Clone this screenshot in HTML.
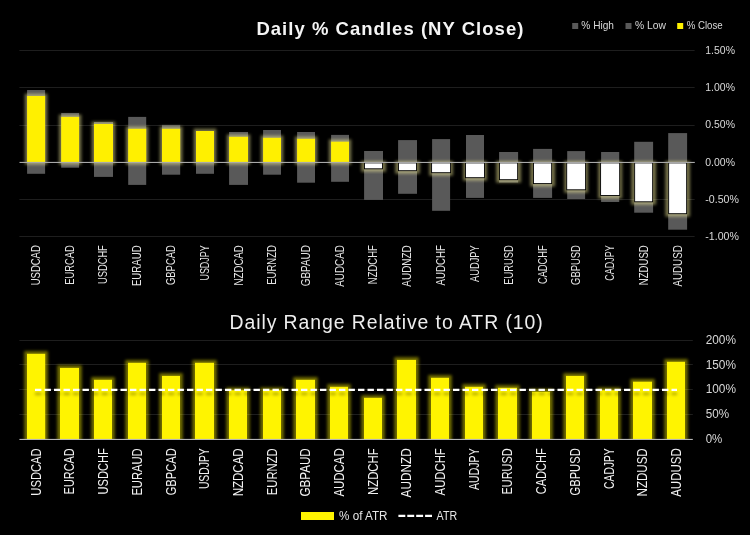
<!DOCTYPE html>
<html lang="en"><head><meta charset="utf-8"><title>Daily % Candles (NY Close)</title>
<style>
html,body{margin:0;padding:0;background:#000;}
body{width:750px;height:535px;overflow:hidden;}
svg{display:block}
text{font-family:"Liberation Sans",Arial,sans-serif;}
</style></head><body>
<svg width="750" height="535" viewBox="0 0 750 535">
<defs>
<filter id="gy" x="-60%" y="-20%" width="220%" height="140%" color-interpolation-filters="sRGB"><feGaussianBlur stdDeviation="1.6"/></filter>
<filter id="gb" x="-60%" y="-20%" width="220%" height="140%" color-interpolation-filters="sRGB"><feGaussianBlur stdDeviation="1.6"/></filter>
<filter id="sh" filterUnits="userSpaceOnUse" x="20" y="380" width="680" height="30" color-interpolation-filters="sRGB"><feGaussianBlur stdDeviation="1.5"/></filter>
</defs>
<rect width="750" height="535" fill="#000"/>

<rect x="19.4" y="50" width="675.2" height="1" fill="#1e1e1e"/>
<rect x="19.4" y="87" width="675.2" height="1" fill="#1e1e1e"/>
<rect x="19.4" y="125" width="675.2" height="1" fill="#1e1e1e"/>
<rect x="19.4" y="199" width="675.2" height="1" fill="#1e1e1e"/>
<rect x="19.4" y="236" width="675.2" height="1" fill="#1e1e1e"/>
<rect x="27.1" y="90.0" width="18.0" height="83.8" fill="#595959"/>
<rect x="61.2" y="113.0" width="17.9" height="54.7" fill="#595959"/>
<rect x="94.0" y="122.0" width="19.0" height="54.9" fill="#595959"/>
<rect x="128.2" y="116.9" width="18.0" height="68.0" fill="#595959"/>
<rect x="162.0" y="124.9" width="18.2" height="49.8" fill="#595959"/>
<rect x="196.0" y="131.0" width="18.0" height="42.8" fill="#595959"/>
<rect x="229.1" y="132.0" width="18.9" height="52.9" fill="#595959"/>
<rect x="263.1" y="130.0" width="17.9" height="44.7" fill="#595959"/>
<rect x="297.1" y="132.0" width="17.9" height="50.7" fill="#595959"/>
<rect x="331.1" y="134.9" width="17.9" height="46.9" fill="#595959"/>
<rect x="364.1" y="151.0" width="18.9" height="48.9" fill="#595959"/>
<rect x="398.1" y="140.1" width="18.9" height="53.7" fill="#595959"/>
<rect x="432.1" y="139.1" width="18.0" height="71.7" fill="#595959"/>
<rect x="466.0" y="135.0" width="18.0" height="62.9" fill="#595959"/>
<rect x="499.1" y="152.0" width="19.0" height="30.6" fill="#595959"/>
<rect x="533.1" y="148.9" width="19.0" height="49.0" fill="#595959"/>
<rect x="567.2" y="151.1" width="17.9" height="47.9" fill="#595959"/>
<rect x="601.1" y="152.0" width="18.1" height="50.0" fill="#595959"/>
<rect x="634.2" y="141.8" width="18.9" height="70.9" fill="#595959"/>
<rect x="668.2" y="133.1" width="18.9" height="96.6" fill="#595959"/>
<rect x="24.8" y="93.7" width="22.6" height="71.0" fill="#fff8a0" opacity="0.45" filter="url(#gy)"/>
<rect x="58.9" y="114.6" width="22.5" height="50.1" fill="#fff8a0" opacity="0.45" filter="url(#gy)"/>
<rect x="91.7" y="121.7" width="23.6" height="43.0" fill="#fff8a0" opacity="0.45" filter="url(#gy)"/>
<rect x="125.9" y="126.5" width="22.6" height="38.2" fill="#fff8a0" opacity="0.45" filter="url(#gy)"/>
<rect x="159.7" y="126.5" width="22.8" height="38.2" fill="#fff8a0" opacity="0.45" filter="url(#gy)"/>
<rect x="193.7" y="128.7" width="22.6" height="36.0" fill="#fff8a0" opacity="0.45" filter="url(#gy)"/>
<rect x="226.8" y="134.5" width="23.5" height="30.2" fill="#fff8a0" opacity="0.45" filter="url(#gy)"/>
<rect x="260.8" y="135.5" width="22.5" height="29.2" fill="#fff8a0" opacity="0.45" filter="url(#gy)"/>
<rect x="294.8" y="136.5" width="22.5" height="28.2" fill="#fff8a0" opacity="0.45" filter="url(#gy)"/>
<rect x="328.8" y="139.4" width="22.5" height="25.3" fill="#fff8a0" opacity="0.45" filter="url(#gy)"/>
<rect x="361.1" y="161.0" width="24.9" height="10.8" fill="#fff8a0" opacity="0.45" filter="url(#gy)"/>
<rect x="395.1" y="161.0" width="24.9" height="12.7" fill="#fff8a0" opacity="0.45" filter="url(#gy)"/>
<rect x="429.1" y="161.0" width="24.0" height="14.7" fill="#fff8a0" opacity="0.45" filter="url(#gy)"/>
<rect x="463.0" y="161.0" width="24.0" height="19.7" fill="#fff8a0" opacity="0.45" filter="url(#gy)"/>
<rect x="496.1" y="161.0" width="25.0" height="21.7" fill="#fff8a0" opacity="0.45" filter="url(#gy)"/>
<rect x="530.1" y="161.0" width="25.0" height="25.6" fill="#fff8a0" opacity="0.45" filter="url(#gy)"/>
<rect x="564.2" y="161.0" width="23.9" height="31.8" fill="#fff8a0" opacity="0.45" filter="url(#gy)"/>
<rect x="598.1" y="161.0" width="24.1" height="37.5" fill="#fff8a0" opacity="0.45" filter="url(#gy)"/>
<rect x="631.2" y="161.0" width="24.9" height="43.8" fill="#fff8a0" opacity="0.45" filter="url(#gy)"/>
<rect x="665.2" y="161.0" width="24.9" height="55.7" fill="#fff8a0" opacity="0.45" filter="url(#gy)"/>
<rect x="27.1" y="96.0" width="18.0" height="66.4" fill="#fff000"/>
<rect x="61.2" y="116.9" width="17.9" height="45.5" fill="#fff000"/>
<rect x="94.0" y="124.0" width="19.0" height="38.4" fill="#fff000"/>
<rect x="128.2" y="128.8" width="18.0" height="33.6" fill="#fff000"/>
<rect x="162.0" y="128.8" width="18.2" height="33.6" fill="#fff000"/>
<rect x="196.0" y="131.0" width="18.0" height="31.4" fill="#fff000"/>
<rect x="229.1" y="136.8" width="18.9" height="25.6" fill="#fff000"/>
<rect x="263.1" y="137.8" width="17.9" height="24.6" fill="#fff000"/>
<rect x="297.1" y="138.8" width="17.9" height="23.6" fill="#fff000"/>
<rect x="331.1" y="141.7" width="17.9" height="20.7" fill="#fff000"/>
<rect x="364.55" y="162.90" width="18.00" height="5.90" fill="#fff" stroke="#000" stroke-width="0.9"/>
<rect x="398.55" y="162.90" width="18.00" height="7.80" fill="#fff" stroke="#000" stroke-width="0.9"/>
<rect x="431.60" y="162.90" width="19.00" height="9.80" fill="#fff" stroke="#000" stroke-width="0.9"/>
<rect x="465.50" y="162.90" width="19.00" height="14.80" fill="#fff" stroke="#000" stroke-width="0.9"/>
<rect x="499.55" y="162.90" width="18.10" height="16.80" fill="#fff" stroke="#000" stroke-width="0.9"/>
<rect x="533.55" y="162.90" width="18.10" height="20.70" fill="#fff" stroke="#000" stroke-width="0.9"/>
<rect x="566.70" y="162.90" width="18.90" height="26.90" fill="#fff" stroke="#000" stroke-width="0.9"/>
<rect x="600.60" y="162.90" width="19.10" height="32.60" fill="#fff" stroke="#000" stroke-width="0.9"/>
<rect x="634.65" y="162.90" width="18.00" height="38.90" fill="#fff" stroke="#000" stroke-width="0.9"/>
<rect x="668.65" y="162.90" width="18.00" height="50.80" fill="#fff" stroke="#000" stroke-width="0.9"/>
<rect x="19.5" y="161.9" width="675.3" height="1.1" fill="#a8a8a8"/>
<text x="705.3" y="53.9" font-size="10.6" fill="#d9d9d9" textLength="29.7" lengthAdjust="spacingAndGlyphs">1.50%</text>
<text x="705.3" y="91.4" font-size="10.6" fill="#d9d9d9" textLength="29.7" lengthAdjust="spacingAndGlyphs">1.00%</text>
<text x="705.3" y="128.4" font-size="10.6" fill="#d9d9d9" textLength="29.7" lengthAdjust="spacingAndGlyphs">0.50%</text>
<text x="705.3" y="165.6" font-size="10.6" fill="#d9d9d9" textLength="29.7" lengthAdjust="spacingAndGlyphs">0.00%</text>
<text x="705.3" y="203.4" font-size="10.6" fill="#d9d9d9" textLength="33.6" lengthAdjust="spacingAndGlyphs">-0.50%</text>
<text x="705.3" y="240.4" font-size="10.6" fill="#d9d9d9" textLength="33.6" lengthAdjust="spacingAndGlyphs">-1.00%</text>
<text transform="translate(40.0,245.2) rotate(-90)" text-anchor="end" font-size="12.6" fill="#e4e4e4" textLength="40.1" lengthAdjust="spacingAndGlyphs">USDCAD</text>
<text transform="translate(74.1,245.2) rotate(-90)" text-anchor="end" font-size="12.6" fill="#e4e4e4" textLength="39.6" lengthAdjust="spacingAndGlyphs">EURCAD</text>
<text transform="translate(107.4,245.2) rotate(-90)" text-anchor="end" font-size="12.6" fill="#e4e4e4" textLength="38.8" lengthAdjust="spacingAndGlyphs">USDCHF</text>
<text transform="translate(141.1,245.2) rotate(-90)" text-anchor="end" font-size="12.6" fill="#e4e4e4" textLength="40.9" lengthAdjust="spacingAndGlyphs">EURAUD</text>
<text transform="translate(175.0,245.2) rotate(-90)" text-anchor="end" font-size="12.6" fill="#e4e4e4" textLength="39.8" lengthAdjust="spacingAndGlyphs">GBPCAD</text>
<text transform="translate(208.9,245.2) rotate(-90)" text-anchor="end" font-size="12.6" fill="#e4e4e4" textLength="35.4" lengthAdjust="spacingAndGlyphs">USDJPY</text>
<text transform="translate(242.5,245.2) rotate(-90)" text-anchor="end" font-size="12.6" fill="#e4e4e4" textLength="40.3" lengthAdjust="spacingAndGlyphs">NZDCAD</text>
<text transform="translate(275.9,245.2) rotate(-90)" text-anchor="end" font-size="12.6" fill="#e4e4e4" textLength="39.6" lengthAdjust="spacingAndGlyphs">EURNZD</text>
<text transform="translate(309.9,245.2) rotate(-90)" text-anchor="end" font-size="12.6" fill="#e4e4e4" textLength="41.1" lengthAdjust="spacingAndGlyphs">GBPAUD</text>
<text transform="translate(343.9,245.2) rotate(-90)" text-anchor="end" font-size="12.6" fill="#e4e4e4" textLength="41.5" lengthAdjust="spacingAndGlyphs">AUDCAD</text>
<text transform="translate(377.4,245.2) rotate(-90)" text-anchor="end" font-size="12.6" fill="#e4e4e4" textLength="39.0" lengthAdjust="spacingAndGlyphs">NZDCHF</text>
<text transform="translate(411.4,245.2) rotate(-90)" text-anchor="end" font-size="12.6" fill="#e4e4e4" textLength="41.5" lengthAdjust="spacingAndGlyphs">AUDNZD</text>
<text transform="translate(445.0,245.2) rotate(-90)" text-anchor="end" font-size="12.6" fill="#e4e4e4" textLength="40.2" lengthAdjust="spacingAndGlyphs">AUDCHF</text>
<text transform="translate(478.9,245.2) rotate(-90)" text-anchor="end" font-size="12.6" fill="#e4e4e4" textLength="36.8" lengthAdjust="spacingAndGlyphs">AUDJPY</text>
<text transform="translate(512.5,245.2) rotate(-90)" text-anchor="end" font-size="12.6" fill="#e4e4e4" textLength="39.5" lengthAdjust="spacingAndGlyphs">EURUSD</text>
<text transform="translate(546.5,245.2) rotate(-90)" text-anchor="end" font-size="12.6" fill="#e4e4e4" textLength="38.9" lengthAdjust="spacingAndGlyphs">CADCHF</text>
<text transform="translate(580.1,245.2) rotate(-90)" text-anchor="end" font-size="12.6" fill="#e4e4e4" textLength="39.7" lengthAdjust="spacingAndGlyphs">GBPUSD</text>
<text transform="translate(614.1,245.2) rotate(-90)" text-anchor="end" font-size="12.6" fill="#e4e4e4" textLength="35.5" lengthAdjust="spacingAndGlyphs">CADJPY</text>
<text transform="translate(647.6,245.2) rotate(-90)" text-anchor="end" font-size="12.6" fill="#e4e4e4" textLength="40.1" lengthAdjust="spacingAndGlyphs">NZDUSD</text>
<text transform="translate(681.6,245.2) rotate(-90)" text-anchor="end" font-size="12.6" fill="#e4e4e4" textLength="41.4" lengthAdjust="spacingAndGlyphs">AUDUSD</text>
<text x="256.4" y="34.7" font-size="18.5" font-weight="bold" fill="#f4f4f4" textLength="267" lengthAdjust="spacing">Daily % Candles (NY Close)</text>
<rect x="572.2" y="23" width="6" height="6" fill="#595959"/><text x="581.3" y="28.8" font-size="10.8" fill="#d9d9d9" textLength="32.7" lengthAdjust="spacingAndGlyphs">% High</text>
<rect x="625.5" y="23" width="6" height="6" fill="#595959"/><text x="635" y="28.8" font-size="10.8" fill="#d9d9d9" textLength="31" lengthAdjust="spacingAndGlyphs">% Low</text>
<rect x="677.2" y="23" width="6" height="6" fill="#fff200"/><text x="686.7" y="28.8" font-size="10.8" fill="#d9d9d9" textLength="36" lengthAdjust="spacingAndGlyphs">% Close</text>
<rect x="19.4" y="340" width="673.4" height="1" fill="#1e1e1e"/>
<rect x="19.4" y="364" width="673.4" height="1" fill="#1e1e1e"/>
<rect x="19.4" y="389" width="673.4" height="1" fill="#1e1e1e"/>
<rect x="19.4" y="414" width="673.4" height="1" fill="#1e1e1e"/>
<rect x="24.3" y="351.1" width="23.6" height="94.1" fill="#fff400" opacity="0.45" filter="url(#gb)"/>
<rect x="57.3" y="365.2" width="24.4" height="80.0" fill="#fff400" opacity="0.45" filter="url(#gb)"/>
<rect x="91.3" y="377.1" width="23.4" height="68.1" fill="#fff400" opacity="0.45" filter="url(#gb)"/>
<rect x="125.3" y="360.1" width="23.4" height="85.1" fill="#fff400" opacity="0.45" filter="url(#gb)"/>
<rect x="159.3" y="373.2" width="23.4" height="72.0" fill="#fff400" opacity="0.45" filter="url(#gb)"/>
<rect x="192.3" y="360.1" width="24.4" height="85.1" fill="#fff400" opacity="0.45" filter="url(#gb)"/>
<rect x="226.3" y="387.5" width="23.4" height="57.7" fill="#fff400" opacity="0.45" filter="url(#gb)"/>
<rect x="260.3" y="387.5" width="23.4" height="57.7" fill="#fff400" opacity="0.45" filter="url(#gb)"/>
<rect x="293.3" y="377.1" width="24.4" height="68.1" fill="#fff400" opacity="0.45" filter="url(#gb)"/>
<rect x="327.3" y="384.1" width="23.4" height="61.1" fill="#fff400" opacity="0.45" filter="url(#gb)"/>
<rect x="361.3" y="395.1" width="23.4" height="50.1" fill="#fff400" opacity="0.45" filter="url(#gb)"/>
<rect x="394.3" y="357.2" width="24.4" height="88.0" fill="#fff400" opacity="0.45" filter="url(#gb)"/>
<rect x="428.3" y="375.1" width="23.4" height="70.1" fill="#fff400" opacity="0.45" filter="url(#gb)"/>
<rect x="462.3" y="384.1" width="23.4" height="61.1" fill="#fff400" opacity="0.45" filter="url(#gb)"/>
<rect x="495.3" y="385.1" width="24.4" height="60.1" fill="#fff400" opacity="0.45" filter="url(#gb)"/>
<rect x="529.3" y="389.0" width="23.4" height="56.2" fill="#fff400" opacity="0.45" filter="url(#gb)"/>
<rect x="563.3" y="373.2" width="23.4" height="72.0" fill="#fff400" opacity="0.45" filter="url(#gb)"/>
<rect x="597.3" y="387.5" width="23.4" height="57.7" fill="#fff400" opacity="0.45" filter="url(#gb)"/>
<rect x="630.3" y="379.0" width="24.4" height="66.2" fill="#fff400" opacity="0.45" filter="url(#gb)"/>
<rect x="664.3" y="359.1" width="23.4" height="86.1" fill="#fff400" opacity="0.45" filter="url(#gb)"/>
<rect x="0" y="439.9" width="750" height="12" fill="#000"/>
<rect x="27.0" y="353.8" width="18.2" height="85.4" fill="#fff400"/>
<rect x="60.0" y="367.9" width="19.0" height="71.3" fill="#fff400"/>
<rect x="94.0" y="379.8" width="18.0" height="59.4" fill="#fff400"/>
<rect x="128.0" y="362.8" width="18.0" height="76.4" fill="#fff400"/>
<rect x="162.0" y="375.9" width="18.0" height="63.3" fill="#fff400"/>
<rect x="195.0" y="362.8" width="19.0" height="76.4" fill="#fff400"/>
<rect x="229.0" y="390.2" width="18.0" height="49.0" fill="#fff400"/>
<rect x="263.0" y="390.2" width="18.0" height="49.0" fill="#fff400"/>
<rect x="296.0" y="379.8" width="19.0" height="59.4" fill="#fff400"/>
<rect x="330.0" y="386.8" width="18.0" height="52.4" fill="#fff400"/>
<rect x="364.0" y="397.8" width="18.0" height="41.4" fill="#fff400"/>
<rect x="397.0" y="359.9" width="19.0" height="79.3" fill="#fff400"/>
<rect x="431.0" y="377.8" width="18.0" height="61.4" fill="#fff400"/>
<rect x="465.0" y="386.8" width="18.0" height="52.4" fill="#fff400"/>
<rect x="498.0" y="387.8" width="19.0" height="51.4" fill="#fff400"/>
<rect x="532.0" y="391.7" width="18.0" height="47.5" fill="#fff400"/>
<rect x="566.0" y="375.9" width="18.0" height="63.3" fill="#fff400"/>
<rect x="600.0" y="390.2" width="18.0" height="49.0" fill="#fff400"/>
<rect x="633.0" y="381.7" width="19.0" height="57.5" fill="#fff400"/>
<rect x="667.0" y="361.8" width="18.0" height="77.4" fill="#fff400"/>
<rect x="19.4" y="438.9" width="673.4" height="1.1" fill="#b5b5b5"/>
<line x1="35" y1="393.8" x2="677" y2="393.8" stroke="#000" stroke-opacity="0.32" stroke-width="2.2" stroke-dasharray="6.4 3.1" filter="url(#sh)"/>
<line x1="35" y1="389.8" x2="677" y2="389.8" stroke="#fff" stroke-width="2.2" stroke-dasharray="6.4 3.1"/>
<text x="705.7" y="344.1" font-size="12" fill="#d9d9d9" textLength="30.3" lengthAdjust="spacingAndGlyphs">200%</text>
<text x="705.7" y="369.1" font-size="12" fill="#d9d9d9" textLength="30.3" lengthAdjust="spacingAndGlyphs">150%</text>
<text x="705.7" y="393.3" font-size="12" fill="#d9d9d9" textLength="30.3" lengthAdjust="spacingAndGlyphs">100%</text>
<text x="705.7" y="418.2" font-size="12" fill="#d9d9d9" textLength="23.4" lengthAdjust="spacingAndGlyphs">50%</text>
<text x="705.7" y="443.4" font-size="12" fill="#d9d9d9" textLength="16.6" lengthAdjust="spacingAndGlyphs">0%</text>
<text transform="translate(40.6,448.3) rotate(-90)" text-anchor="end" font-size="13.8" fill="#f2f2f2" textLength="47.4" lengthAdjust="spacingAndGlyphs">USDCAD</text>
<text transform="translate(74.0,448.3) rotate(-90)" text-anchor="end" font-size="13.8" fill="#f2f2f2" textLength="46.1" lengthAdjust="spacingAndGlyphs">EURCAD</text>
<text transform="translate(107.5,448.3) rotate(-90)" text-anchor="end" font-size="13.8" fill="#f2f2f2" textLength="46.1" lengthAdjust="spacingAndGlyphs">USDCHF</text>
<text transform="translate(141.5,448.3) rotate(-90)" text-anchor="end" font-size="13.8" fill="#f2f2f2" textLength="47.3" lengthAdjust="spacingAndGlyphs">EURAUD</text>
<text transform="translate(175.5,448.3) rotate(-90)" text-anchor="end" font-size="13.8" fill="#f2f2f2" textLength="47.0" lengthAdjust="spacingAndGlyphs">GBPCAD</text>
<text transform="translate(209.0,448.3) rotate(-90)" text-anchor="end" font-size="13.8" fill="#f2f2f2" textLength="40.8" lengthAdjust="spacingAndGlyphs">USDJPY</text>
<text transform="translate(242.5,448.3) rotate(-90)" text-anchor="end" font-size="13.8" fill="#f2f2f2" textLength="48.0" lengthAdjust="spacingAndGlyphs">NZDCAD</text>
<text transform="translate(276.5,448.3) rotate(-90)" text-anchor="end" font-size="13.8" fill="#f2f2f2" textLength="46.9" lengthAdjust="spacingAndGlyphs">EURNZD</text>
<text transform="translate(310.0,448.3) rotate(-90)" text-anchor="end" font-size="13.8" fill="#f2f2f2" textLength="48.2" lengthAdjust="spacingAndGlyphs">GBPAUD</text>
<text transform="translate(343.5,448.3) rotate(-90)" text-anchor="end" font-size="13.8" fill="#f2f2f2" textLength="48.3" lengthAdjust="spacingAndGlyphs">AUDCAD</text>
<text transform="translate(377.5,448.3) rotate(-90)" text-anchor="end" font-size="13.8" fill="#f2f2f2" textLength="46.7" lengthAdjust="spacingAndGlyphs">NZDCHF</text>
<text transform="translate(411.0,448.3) rotate(-90)" text-anchor="end" font-size="13.8" fill="#f2f2f2" textLength="49.1" lengthAdjust="spacingAndGlyphs">AUDNZD</text>
<text transform="translate(444.5,448.3) rotate(-90)" text-anchor="end" font-size="13.8" fill="#f2f2f2" textLength="47.1" lengthAdjust="spacingAndGlyphs">AUDCHF</text>
<text transform="translate(478.5,448.3) rotate(-90)" text-anchor="end" font-size="13.8" fill="#f2f2f2" textLength="41.7" lengthAdjust="spacingAndGlyphs">AUDJPY</text>
<text transform="translate(512.0,448.3) rotate(-90)" text-anchor="end" font-size="13.8" fill="#f2f2f2" textLength="46.3" lengthAdjust="spacingAndGlyphs">EURUSD</text>
<text transform="translate(545.5,448.3) rotate(-90)" text-anchor="end" font-size="13.8" fill="#f2f2f2" textLength="45.9" lengthAdjust="spacingAndGlyphs">CADCHF</text>
<text transform="translate(579.5,448.3) rotate(-90)" text-anchor="end" font-size="13.8" fill="#f2f2f2" textLength="47.2" lengthAdjust="spacingAndGlyphs">GBPUSD</text>
<text transform="translate(613.5,448.3) rotate(-90)" text-anchor="end" font-size="13.8" fill="#f2f2f2" textLength="40.6" lengthAdjust="spacingAndGlyphs">CADJPY</text>
<text transform="translate(647.0,448.3) rotate(-90)" text-anchor="end" font-size="13.8" fill="#f2f2f2" textLength="48.1" lengthAdjust="spacingAndGlyphs">NZDUSD</text>
<text transform="translate(680.5,448.3) rotate(-90)" text-anchor="end" font-size="13.8" fill="#f2f2f2" textLength="48.5" lengthAdjust="spacingAndGlyphs">AUDUSD</text>
<text x="229.5" y="328.6" font-size="19.4" fill="#eeeeee" textLength="313.2" lengthAdjust="spacing">Daily Range Relative to ATR (10)</text>
<rect x="301" y="512" width="33" height="8" fill="#fff400"/><text x="339" y="519.9" font-size="12" fill="#e6e6e6" textLength="48.5" lengthAdjust="spacingAndGlyphs">% of ATR</text>
<line x1="398.4" y1="515.8" x2="432" y2="515.8" stroke="#fff" stroke-width="2.2" stroke-dasharray="6.9 2"/><text x="436.6" y="519.9" font-size="12" fill="#e6e6e6" textLength="20.5" lengthAdjust="spacingAndGlyphs">ATR</text>
</svg></body></html>
